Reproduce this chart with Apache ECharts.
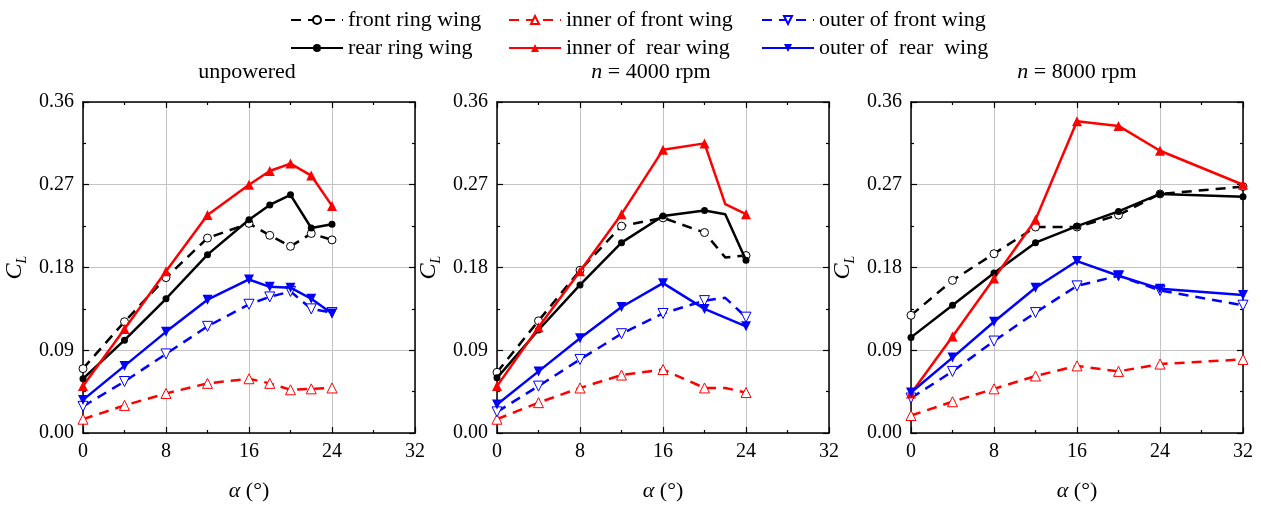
<!DOCTYPE html>
<html lang="en">

<head>
    <meta charset="UTF-8">
    <title>CL vs alpha</title>
    <script src="https://cdn.jsdelivr.net/npm/echarts@6/dist/echarts.min.js"></script>
    <style>
        body { margin: 0; background: #fff; }
        #main { width: 1261px; height: 505px; }
    </style>
</head>

<body>
    <div id="main"></div>
    <script>
        // angle of attack for each panel
        var xUnpowered = [0, 4, 8, 12, 16, 18, 20, 22, 24];
        var x4000 = [0, 4, 8, 12, 16, 20, 22, 24];
        var x8000 = [0, 4, 8, 12, 16, 20, 24, 32];
        // points on 4000 rpm curves that are only kinks (no marker)
        var kinks4000 = [22];

        var xTicks = [0, 8, 16, 24, 32];
        var yTicks = [0, 0.09, 0.18, 0.27, 0.36];
        var panelTitles = ['unpowered', '{n|n} = 4000 rpm', '{n|n} = 8000 rpm'];

        // unpowered
        var frontRing1 = [0.070, 0.121, 0.169, 0.212, 0.228, 0.215, 0.203, 0.217, 0.210];
        var rearRing1 = [0.059, 0.101, 0.146, 0.194, 0.232, 0.248, 0.259, 0.223, 0.227];
        var innerFront1 = [0.015, 0.030, 0.043, 0.054, 0.059, 0.054, 0.047, 0.048, 0.049];
        var innerRear1 = [0.051, 0.113, 0.176, 0.237, 0.270, 0.285, 0.293, 0.280, 0.247];
        var outerFront1 = [0.029, 0.056, 0.086, 0.116, 0.140, 0.148, 0.154, 0.135, 0.131];
        var outerRear1 = [0.036, 0.073, 0.110, 0.145, 0.167, 0.159, 0.158, 0.146, 0.130];

        // n = 4000 rpm
        var frontRing2 = [0.066, 0.122, 0.177, 0.225, 0.234, 0.218, 0.191, 0.193];
        var rearRing2 = [0.060, 0.112, 0.161, 0.207, 0.236, 0.242, 0.238, 0.188];
        var innerFront2 = [0.015, 0.033, 0.049, 0.063, 0.069, 0.049, 0.049, 0.044];
        var innerRear2 = [0.051, 0.115, 0.176, 0.238, 0.308, 0.315, 0.249, 0.238];
        var outerFront2 = [0.023, 0.051, 0.080, 0.108, 0.130, 0.144, 0.147, 0.126];
        var outerRear2 = [0.031, 0.067, 0.103, 0.137, 0.163, 0.135, null, 0.116];

        // n = 8000 rpm
        var frontRing3 = [0.128, 0.166, 0.195, 0.224, 0.224, 0.237, 0.260, 0.268];
        var rearRing3 = [0.104, 0.139, 0.174, 0.207, 0.225, 0.241, 0.260, 0.257];
        var innerFront3 = [0.019, 0.034, 0.048, 0.062, 0.073, 0.067, 0.075, 0.080];
        var innerRear3 = [0.043, 0.105, 0.168, 0.232, 0.339, 0.334, 0.307, 0.270];
        var outerFront3 = [0.038, 0.067, 0.100, 0.131, 0.160, 0.171, 0.155, 0.139];
        var outerRear3 = [0.044, 0.082, 0.121, 0.158, 0.187, 0.171, 0.157, 0.150];

        var FONT = 'Liberation Serif';

        // look of each curve
        var styles = {
            'front ring wing': { color: '#000', dashed: true, symbol: 'circle', size: 8, open: true },
            'rear ring wing': { color: '#000', dashed: false, symbol: 'circle', size: 7, open: false },
            'inner of front wing': { color: '#ff0000', dashed: true, symbol: 'triangle', size: 10, open: true },
            'inner of  rear wing': { color: '#ff0000', dashed: false, symbol: 'triangle', size: 10, open: false },
            'outer of front wing': { color: '#0000ff', dashed: true, symbol: 'triangle', size: 10, open: true, rot: 180 },
            'outer of  rear  wing': { color: '#0000ff', dashed: false, symbol: 'triangle', size: 10, open: false, rot: 180 }
        };

        var panels = [
            { x: xUnpowered, kinks: [], data: [frontRing1, rearRing1, innerFront1, innerRear1, outerFront1, outerRear1] },
            { x: x4000, kinks: kinks4000, data: [frontRing2, rearRing2, innerFront2, innerRear2, outerFront2, outerRear2] },
            { x: x8000, kinks: [], data: [frontRing3, rearRing3, innerFront3, innerRear3, outerFront3, outerRear3] }
        ];
        var names = Object.keys(styles);

        var gridLeft = [83, 497, 911];
        var titleCenter = [247, 651, 1077];

        var grids = [], xAxes = [], yAxes = [], titles = [], series = [];

        panels.forEach(function(p, k) {
            grids.push({
                left: gridLeft[k], top: 102, width: 332, height: 331,
                containLabel: false, outerBoundsMode: 'none'
            });

            titles.push({
                text: panelTitles[k],
                left: titleCenter[k],
                top: 61,
                padding: 0,
                textAlign: 'center',
                textStyle: {
                    fontFamily: FONT, fontSize: 22, fontWeight: 'normal', color: '#000',
                    rich: { n: { fontFamily: FONT, fontSize: 22, fontStyle: 'italic', color: '#000' } }
                }
            });

            var tick = { show: true, inside: true, length: 6, lineStyle: { color: '#000', width: 1.2 } };
            var minor = { show: true, splitNumber: 2, length: 3, lineStyle: { color: '#000', width: 1.2 } };
            var axLine = { show: true, onZero: false, lineStyle: { color: '#000', width: 1.5 } };

            xAxes.push({
                gridIndex: k, type: 'value', position: 'bottom',
                min: xTicks[0], max: xTicks[xTicks.length - 1], interval: xTicks[1] - xTicks[0],
                axisLine: axLine, axisTick: tick, minorTick: minor,
                splitLine: { show: true, lineStyle: { color: '#c4c4c4', width: 1 } },
                axisLabel: { fontFamily: FONT, fontSize: 20, color: '#000', margin: 9 },
                name: '{a|α} (°)',
                nameLocation: 'middle',
                nameGap: 47,
                nameTextStyle: {
                    fontFamily: FONT, fontSize: 22, color: '#000',
                    rich: { a: { fontFamily: FONT, fontSize: 22, fontStyle: 'italic', color: '#000' } }
                }
            });
            xAxes.push({
                gridIndex: k, type: 'value', position: 'top',
                min: xTicks[0], max: xTicks[xTicks.length - 1], interval: xTicks[1] - xTicks[0],
                axisLine: axLine, axisTick: tick, minorTick: minor,
                splitLine: { show: false }, axisLabel: { show: false }
            });
            yAxes.push({
                gridIndex: k, type: 'value', position: 'left',
                min: yTicks[0], max: yTicks[yTicks.length - 1], interval: yTicks[1] - yTicks[0],
                axisLine: axLine, axisTick: tick, minorTick: minor,
                splitLine: { show: true, lineStyle: { color: '#c4c4c4', width: 1 } },
                axisLabel: {
                    fontFamily: FONT, fontSize: 20, color: '#000', margin: 9,
                    formatter: function(v) { return v.toFixed(2); }
                },
                name: '{c|C}{l|L}',
                nameLocation: 'middle',
                nameRotate: 90,
                nameGap: 54,
                nameTextStyle: {
                    rich: {
                        c: { fontFamily: FONT, fontSize: 24, fontStyle: 'italic', color: '#000', lineHeight: 28 },
                        l: { fontFamily: FONT, fontSize: 14, fontStyle: 'italic', color: '#000', verticalAlign: 'bottom', lineHeight: 28 }
                    }
                }
            });
            yAxes.push({
                gridIndex: k, type: 'value', position: 'right',
                min: yTicks[0], max: yTicks[yTicks.length - 1], interval: yTicks[1] - yTicks[0],
                axisLine: axLine, axisTick: tick, minorTick: minor,
                splitLine: { show: false }, axisLabel: { show: false }
            });

            names.forEach(function(name, j) {
                var st = styles[name];
                var pts = [];
                p.x.forEach(function(x, i) {
                    var v = p.data[j][i];
                    if (v === null || v === undefined) return;
                    if (p.kinks.indexOf(x) >= 0) {
                        pts.push({ value: [x, v], symbol: 'none' });
                    } else {
                        pts.push([x, v]);
                    }
                });
                series.push({
                    name: name,
                    type: 'line',
                    xAxisIndex: 2 * k,
                    yAxisIndex: 2 * k,
                    data: pts,
                    symbol: st.symbol,
                    symbolSize: st.size,
                    symbolRotate: st.rot || 0,
                    showSymbol: true,
                    lineStyle: { color: st.color, width: 2.5, type: st.dashed ? [10, 7] : 'solid' },
                    itemStyle: {
                        color: st.open ? '#fff' : st.color,
                        borderColor: st.color,
                        borderWidth: st.open ? 1 : 0
                    },
                    z: st.dashed ? 2 : 3
                });
            });
        });

        function legendCol(left, items) {
            return {
                orient: 'vertical',
                left: left,
                top: 9,
                padding: 0,
                itemWidth: 52,
                itemHeight: 10,
                itemGap: 6,
                data: items,
                textStyle: { fontFamily: FONT, fontSize: 22, color: '#000', lineHeight: 22 }
            };
        }

        var chart = echarts.init(document.getElementById('main'));
        chart.setOption({
            animation: false,
            backgroundColor: '#fff',
            title: titles,
            legend: [
                legendCol(290, ['front ring wing', 'rear ring wing']),
                legendCol(508, ['inner of front wing', 'inner of  rear wing']),
                legendCol(761, ['outer of front wing', 'outer of  rear  wing'])
            ],
            grid: grids,
            xAxis: xAxes,
            yAxis: yAxes,
            series: series
        });
    </script>
</body>

</html>
